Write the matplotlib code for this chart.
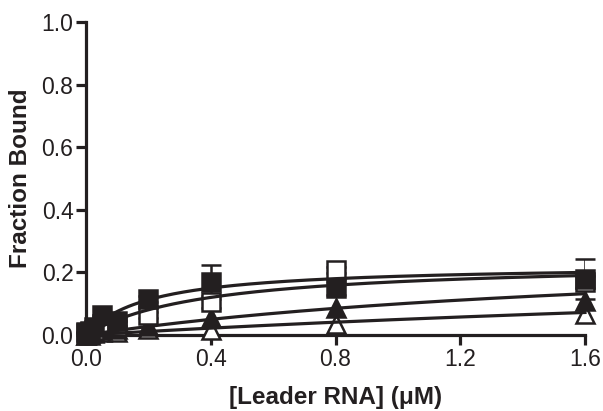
import numpy as np
import matplotlib
matplotlib.use("Agg")
import matplotlib.pyplot as plt

plt.rcParams['font.family'] = ['Liberation Sans', 'DejaVu Sans']

# concentrations (uM)
conc = [0.0, 0.0125, 0.025, 0.05, 0.1, 0.2, 0.4, 0.8, 1.6]

# fraction bound
filled_sq = [0.01, 0.012, 0.025, 0.064, 0.046, 0.114, 0.17, 0.149, 0.179]
filled_sq_err = [0.0, 0.0, 0.0, 0.0, 0.0, 0.01, 0.054, 0.02, 0.064]
open_sq = [0.005, 0.01, 0.015, 0.03, 0.03, 0.064, 0.106, 0.207, 0.17]
open_sq_err = [0.0, 0.0, 0.0, 0.0, 0.0, 0.01, 0.02, 0.01, 0.02]
filled_tri = [0.0, 0.005, 0.01, 0.015, 0.02, 0.03, 0.054, 0.086, 0.11]
open_tri = [0.0, 0.0, 0.005, 0.008, 0.01, 0.02, 0.016, 0.035, 0.067]

# one-site binding fits (Bmax, Kd)
fits = [(0.225, 0.2), (0.236, 0.386), (0.291, 1.93), (0.297, 5.0)]

fig = plt.figure(figsize=(6.03, 4.11), dpi=100)
ax = fig.add_axes([86/603, 1 - 335/411, 499/603, 313/411])

ms = 13
mew = 1.8
ax.plot(conc, open_tri, ls='none', marker='^', ms=ms, mfc='white', mec='#231f20', mew=mew, zorder=3)
ax.plot(conc, filled_tri, ls='none', marker='^', ms=ms, mfc='#231f20', mec='#231f20', mew=mew, zorder=3)
ax.errorbar(conc, open_sq, yerr=open_sq_err, ls='none', marker='s', ms=ms, mfc='white', mec='#231f20',
            mew=mew, ecolor='#231f20', elinewidth=1.8, capsize=7, capthick=1.8, zorder=4)
ax.errorbar(conc, filled_sq, yerr=filled_sq_err, ls='none', marker='s', ms=ms, mfc='#231f20', mec='#231f20',
            mew=mew, ecolor='#231f20', elinewidth=1.8, capsize=7, capthick=1.8, zorder=4)

xf = np.linspace(0, 1.6, 200)
for bmax, kd in fits:
    ax.plot(xf, bmax * xf / (kd + xf), color='#231f20', lw=2.3, zorder=5)

ax.set_xlim(0, 1.6)
ax.set_ylim(0, 1.0)
ax.set_xticks([0.0, 0.4, 0.8, 1.2, 1.6])
ax.set_yticks([0.0, 0.2, 0.4, 0.6, 0.8, 1.0])
ax.xaxis.set_major_formatter(matplotlib.ticker.FormatStrFormatter('%.1f'))
ax.yaxis.set_major_formatter(matplotlib.ticker.FormatStrFormatter('%.1f'))
for s in ['top', 'right']:
    ax.spines[s].set_visible(False)
for s in ['left', 'bottom']:
    ax.spines[s].set_linewidth(2.3)
    ax.spines[s].set_color('#231f20')
ax.tick_params(width=2.3, length=7, color='#231f20', labelsize=16.5, labelcolor='#231f20', pad=2)

ax.set_xlabel('[Leader RNA] (\u03bcM)', fontsize=17.5, fontweight='bold', color='#231f20', labelpad=11)
ax.set_ylabel('Fraction Bound', fontsize=17.5, fontweight='bold', color='#231f20', labelpad=7)
for line in ax.lines:
    line.set_clip_on(False)

fig.savefig('out.png', dpi=100)
